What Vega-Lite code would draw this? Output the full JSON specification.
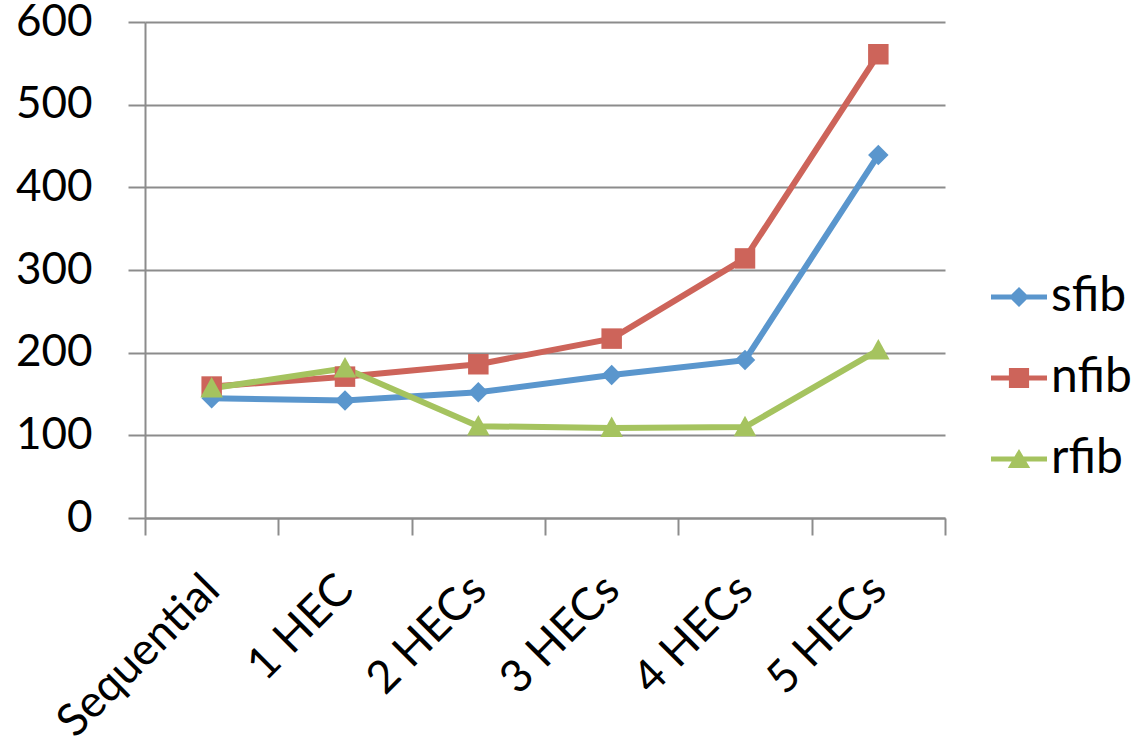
{
  "$schema": "https://vega.github.io/schema/vega-lite/v6.json",
  "width": 800,
  "height": 496,
  "autosize": {"type": "none"},
  "padding": {"left": 145, "top": 22, "right": 190, "bottom": 230},
  "background": "white",
  "config": {"view": {"stroke": null}, "font": "Lato"},
  "data": {
    "values": [
      {"config": "Sequential", "series": "sfib", "value": 145},
      {"config": "1 HEC", "series": "sfib", "value": 142},
      {"config": "2 HECs", "series": "sfib", "value": 152},
      {"config": "3 HECs", "series": "sfib", "value": 173},
      {"config": "4 HECs", "series": "sfib", "value": 191},
      {"config": "5 HECs", "series": "sfib", "value": 439},
      {"config": "Sequential", "series": "nfib", "value": 159},
      {"config": "1 HEC", "series": "nfib", "value": 171},
      {"config": "2 HECs", "series": "nfib", "value": 186},
      {"config": "3 HECs", "series": "nfib", "value": 217},
      {"config": "4 HECs", "series": "nfib", "value": 314},
      {"config": "5 HECs", "series": "nfib", "value": 561},
      {"config": "Sequential", "series": "rfib", "value": 157},
      {"config": "1 HEC", "series": "rfib", "value": 181},
      {"config": "2 HECs", "series": "rfib", "value": 111},
      {"config": "3 HECs", "series": "rfib", "value": 109},
      {"config": "4 HECs", "series": "rfib", "value": 110},
      {"config": "5 HECs", "series": "rfib", "value": 203}
    ]
  },
  "encoding": {
    "x": {
      "field": "config",
      "type": "nominal",
      "sort": ["Sequential", "1 HEC", "2 HECs", "3 HECs", "4 HECs", "5 HECs"],
      "bandPosition": 0.5,
      "scale": {"type": "band", "paddingInner": 0, "paddingOuter": 0},
      "axis": {
        "title": null,
        "labelAngle": -45,
        "labelAlign": "right",
        "labelBaseline": "middle",
        "labelFontSize": 45,
        "labelFont": "Lato",
        "labelColor": "black",
        "labelPadding": 47,
        "labelLimit": 500,
        "labelOverlap": false,
        "tickBand": "extent",
        "tickSize": 17,
        "tickWidth": 2,
        "tickColor": "#8c8c8c",
        "domainColor": "#8c8c8c",
        "domainWidth": 2,
        "grid": false
      }
    },
    "y": {
      "field": "value",
      "type": "quantitative",
      "scale": {"domain": [0, 600], "nice": false},
      "axis": {
        "title": null,
        "values": [0, 100, 200, 300, 400, 500, 600],
        "labelFontSize": 44,
        "labelFont": "Lato",
        "labelColor": "black",
        "labelPadding": 36,
        "labelBaseline": "middle",
        "tickSize": 17,
        "tickWidth": 2,
        "tickColor": "#8c8c8c",
        "domainColor": "#8c8c8c",
        "domainWidth": 2,
        "grid": true,
        "gridColor": "#8c8c8c",
        "gridWidth": 2
      }
    }
  },
  "layer": [
    {
      "mark": {"type": "line", "strokeWidth": 6},
      "encoding": {
        "stroke": {
          "field": "series",
          "type": "nominal",
          "scale": {"domain": ["nfib", "rfib", "sfib"], "range": ["#CD645A", "#A5C35F", "#5A96CD"]},
          "legend": null
        }
      }
    },
    {
      "transform": [{"filter": "datum.series === 'sfib'"}],
      "mark": {"type": "point", "filled": true, "size": 420, "opacity": 1, "strokeWidth": 0, "shape": "M0,-1L1,0L0,1L-1,0Z"},
      "encoding": {
        "fill": {
          "field": "series",
          "type": "nominal",
          "scale": {"domain": ["rfib", "nfib", "sfib"], "range": ["#A5C35F", "#CD645A", "#5A96CD"]},
          "legend": null
        }
      }
    },
    {
      "transform": [{"filter": "datum.series === 'nfib'"}],
      "mark": {"type": "point", "filled": true, "size": 420, "opacity": 1, "strokeWidth": 0, "shape": "M-1,-1H1V1H-1Z"},
      "encoding": {
        "fill": {
          "field": "series",
          "type": "nominal",
          "scale": {"domain": ["rfib", "nfib", "sfib"], "range": ["#A5C35F", "#CD645A", "#5A96CD"]},
          "legend": null
        }
      }
    },
    {
      "transform": [{"filter": "datum.series === 'rfib'"}],
      "mark": {"type": "point", "filled": true, "size": 420, "opacity": 1, "strokeWidth": 0, "shape": "M0,-1.1L1.1,0.9H-1.1Z"},
      "encoding": {
        "fill": {
          "field": "series",
          "type": "nominal",
          "scale": {"domain": ["rfib", "nfib", "sfib"], "range": ["#A5C35F", "#CD645A", "#5A96CD"]},
          "legend": null
        }
      }
    },
    {
      "transform": [{"filter": "datum.value < 0"}],
      "mark": {"type": "point", "filled": true, "size": 3136, "opacity": 1, "strokeWidth": 0},
      "encoding": {
        "color": {
          "field": "series",
          "type": "nominal",
          "scale": {"domain": ["sfib", "nfib", "rfib"], "range": ["#5A96CD", "#CD645A", "#A5C35F"]},
          "legend": {
            "title": null,
            "orient": "none",
            "legendX": 846,
            "legendY": 247,
            "padding": 0,
            "symbolSize": 3136,
            "symbolStrokeWidth": 0,
            "labelFontSize": 48,
            "labelFont": "Lato",
            "labelColor": "black",
            "labelOffset": 4,
            "rowPadding": 29
          }
        },
        "shape": {
          "field": "series",
          "type": "nominal",
          "scale": {
            "domain": ["sfib", "nfib", "rfib"],
            "range": [
              "M-1,-0.09H1V0.09H-1Z M0,-0.36L0.36,0L0,0.36L-0.36,0Z",
              "M-1,-0.09H1V0.09H-1Z M-0.36,-0.36H0.36V0.36H-0.36Z",
              "M-1,-0.09H1V0.09H-1Z M0,-0.36L0.4,0.32H-0.4Z"
            ]
          },
          "legend": {
            "title": null,
            "orient": "none",
            "legendX": 846,
            "legendY": 247,
            "padding": 0,
            "symbolSize": 3136,
            "symbolStrokeWidth": 0,
            "labelFontSize": 48,
            "labelFont": "Lato",
            "labelColor": "black",
            "labelOffset": 4,
            "rowPadding": 29
          }
        }
      }
    }
  ]
}
